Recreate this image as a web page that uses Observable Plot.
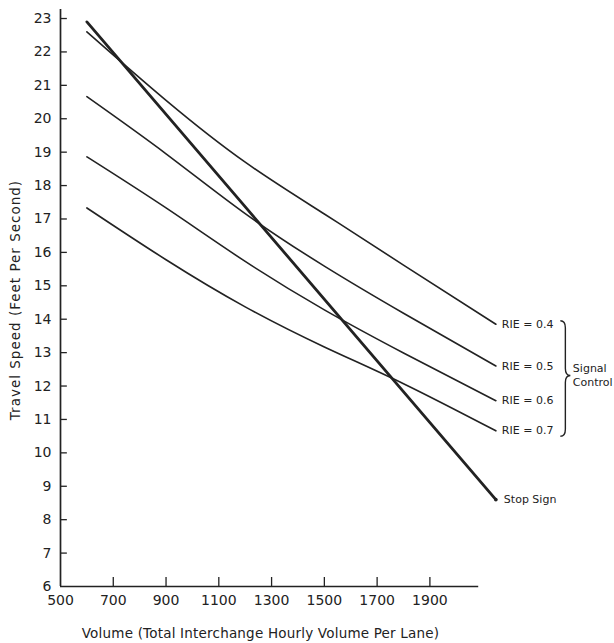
<!DOCTYPE html>
<html>
<head>
<meta charset="utf-8">
<script src="https://cdn.jsdelivr.net/npm/d3@7"></script>
<script src="https://cdn.jsdelivr.net/npm/@observablehq/plot@0.6"></script>
<style>
  html, body { margin: 0; padding: 0; background: #fff; }
  #chart svg { display: block; }
</style>
</head>
<body>
<div id="chart"></div>
<script>
// ---- Data ----
const volume = [600, 900, 1200, 1500, 1800, 2150];
const rie04 = [22.6, 20.55, 18.7, 17.15, 15.62, 13.85];
const rie05 = [20.66, 18.95, 17.16, 15.59, 14.18, 12.6];
const rie06 = [18.86, 17.33, 15.73, 14.28, 12.99, 11.56];
const rie07 = [17.33, 15.78, 14.37, 13.17, 12.07, 10.66];
const rieLabels = ["RIE = 0.4", "RIE = 0.5", "RIE = 0.6", "RIE = 0.7"];

const stopVolume = [600, 2150];
const stopSpeed = [22.9, 8.6];
const stopLabel = "Stop Sign";
const groupLabel = "Signal\nControl";

const xTicks = [500, 700, 900, 1100, 1300, 1500, 1700, 1900];
const yTicks = [6, 7, 8, 9, 10, 11, 12, 13, 14, 15, 16, 17, 18, 19, 20, 21, 22, 23];

const xTitle = "Volume (Total Interchange Hourly Volume Per Lane)";
const yTitle = "Travel Speed (Feet Per Second)";

// ---- Build tables ----
const seriesValues = [rie04, rie05, rie06, rie07];
const rows = seriesValues.flatMap((vals, s) =>
  volume.map((v, i) => ({volume: v, speed: vals[i], rie: rieLabels[s]})));
const ends = seriesValues.map((vals, s) =>
  ({volume: volume[volume.length - 1], speed: vals[vals.length - 1], rie: rieLabels[s]}));
const stopRows = stopVolume.map((v, i) => ({volume: v, speed: stopSpeed[i]}));
const stopEnd = [stopRows[stopRows.length - 1]];
const lastVol = volume[volume.length - 1];
const groupMid = [{volume: lastVol, speed: (rie04[rie04.length - 1] + rie07[rie07.length - 1]) / 2}];

const ink = "#222";

function brace(index, scales) {
  const x = scales.x, y = scales.y;
  const x0 = x(lastVol) + 65;
  const yt = y(rie04[rie04.length - 1]) - 3;
  const yb = y(rie07[rie07.length - 1]) + 6;
  const ym = (yt + yb) / 2 - 3;
  const w = 5, r = 7;
  const d = `M${x0},${yt} Q${x0 + w},${yt} ${x0 + w},${yt + r} L${x0 + w},${ym - r} ` +
            `Q${x0 + w},${ym} ${x0 + 2 * w},${ym} Q${x0 + w},${ym} ${x0 + w},${ym + r} ` +
            `L${x0 + w},${yb - r} Q${x0 + w},${yb} ${x0},${yb}`;
  return d3.create("svg:path")
    .attr("d", d).attr("fill", "none").attr("stroke", ink).attr("stroke-width", 1.4)
    .node();
}

const chart = Plot.plot({
  width: 614,
  height: 643,
  marginLeft: 60,
  marginRight: 116,
  marginTop: 9,
  marginBottom: 57,
  x: {domain: [500, 2160]},
  y: {domain: [6, 23.27]},
  style: {fontFamily: "DejaVu Sans", color: ink, background: "#fff"},
  marks: [
    // axis labels
    Plot.axisX(xTicks, {tickSize: 0, tickPadding: 9, fontSize: 14, label: null, tickFormat: d => String(d)}),
    Plot.axisY(yTicks, {tickSize: 0, tickPadding: 9, fontSize: 14, label: null, tickFormat: d => String(d)}),
    // inward tick marks
    Plot.ruleX(xTicks.slice(1), {y1: 6, y2: 6.27, stroke: ink, strokeWidth: 1.3}),
    Plot.ruleY(yTicks.slice(1), {x1: 500, x2: 526, stroke: ink, strokeWidth: 1.3}),
    // axis lines
    Plot.ruleX([500], {y1: 6, y2: 23.27, stroke: ink, strokeWidth: 1.7}),
    Plot.ruleY([6], {x1: 500, x2: 2085, stroke: ink, strokeWidth: 1.7}),
    // titles
    Plot.text([xTitle], {frameAnchor: "bottom", dx: -19, dy: 51, fontSize: 13.5, fill: ink}),
    Plot.text([yTitle], {frameAnchor: "left", textAnchor: "middle", rotate: -90, dx: -45, dy: 2, fontSize: 13.5, fill: ink}),
    // RIE curves
    Plot.line(rows, {x: "volume", y: "speed", z: "rie", curve: "natural", stroke: ink, strokeWidth: 1.6}),
    // Stop sign line
    Plot.line(stopRows, {x: "volume", y: "speed", stroke: ink, strokeWidth: 2.8}),
    Plot.dot(stopEnd, {x: "volume", y: "speed", r: 1.8, fill: ink}),
    // Labels
    Plot.text(ends, {x: "volume", y: "speed", text: "rie", textAnchor: "start", dx: 6, fontSize: 11, fill: ink}),
    Plot.text(stopEnd, {x: "volume", y: "speed", text: () => stopLabel, textAnchor: "start", dx: 8, fontSize: 11, fill: ink}),
    Plot.text(groupMid, {x: "volume", y: "speed", text: () => groupLabel, textAnchor: "start", dx: 77, dy: -3, fontSize: 11, lineHeight: 1.3, fill: ink}),
    brace
  ]
});
// widen the lettering of the axis titles to match the hand-lettered original
d3.select(chart).selectAll("text").each(function() {
  const t = this.textContent;
  if (t === xTitle) this.setAttribute("letter-spacing", "0.2");
  if (t === yTitle) this.setAttribute("letter-spacing", "1");
});
document.getElementById("chart").appendChild(chart);
</script>
</body>
</html>
